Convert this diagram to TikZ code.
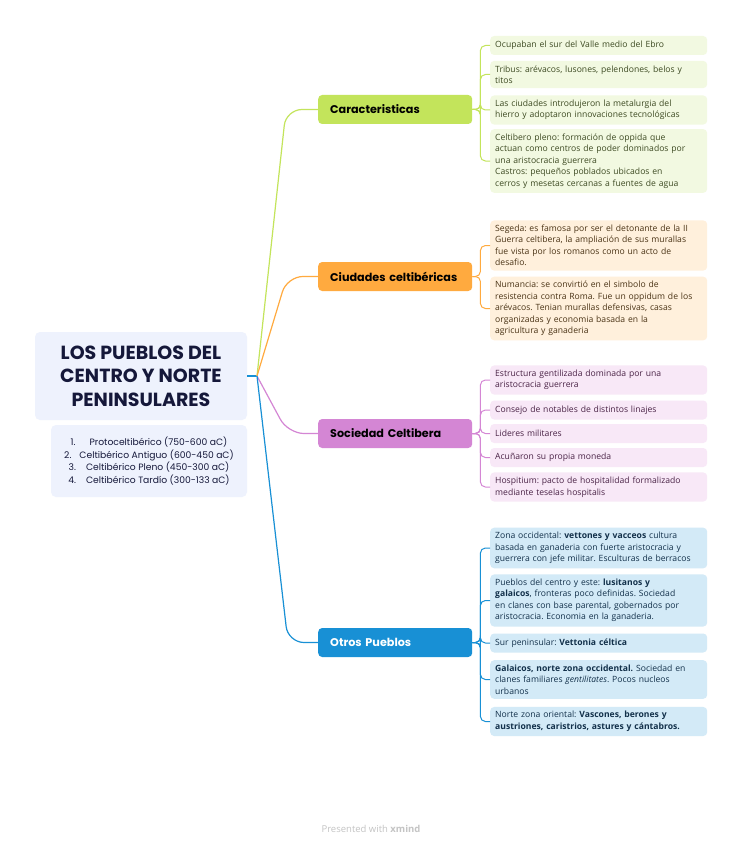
\documentclass[tikz,border=0pt]{standalone}
\usepackage{fontspec}
\setmainfont{Open Sans}
\newfontfamily\headfont{Poppins}
\usepackage{xcolor}
\usepackage{tikz}
\frenchspacing

\definecolor{rootfill}{HTML}{EEF2FD}
\definecolor{roottext}{HTML}{15183A}
\definecolor{grline}{HTML}{C3E45B}
\definecolor{grleaf}{HTML}{F2F9E1}
\definecolor{grtext}{HTML}{3D4A22}
\definecolor{orline}{HTML}{FFAA3F}
\definecolor{orleaf}{HTML}{FFF0DC}
\definecolor{ortext}{HTML}{4A3315}
\definecolor{piline}{HTML}{D486D4}
\definecolor{pileaf}{HTML}{F8E8F7}
\definecolor{pitext}{HTML}{4A2346}
\definecolor{blline}{HTML}{1890D5}
\definecolor{blleaf}{HTML}{D3EAF7}
\definecolor{bltext}{HTML}{12304A}
\definecolor{footgray}{HTML}{C4C4C4}

\begin{document}
\begin{tikzpicture}[x=1pt, y=-1pt, every node/.style={inner sep=0pt},
  rootbox/.style={fill=rootfill, rounded corners=5pt, minimum width=212pt, minimum height=88pt, align=center, text=roottext, font=\headfont\fontsize{19}{23.5}\selectfont\bfseries},
  summbox/.style={fill=rootfill, rounded corners=5pt, minimum width=196pt, minimum height=72pt, align=center, text=roottext, font=\headfont\fontsize{9.2}{12.7}\selectfont},
  branch/.style={rounded corners=4pt, anchor=west, text width=130pt, minimum height=29pt, inner xsep=12pt, align=left, font=\headfont\fontsize{11.2}{12}\selectfont\bfseries},
  leaf/.style={rounded corners=4pt, anchor=west, text width=207pt, minimum height=19pt, inner xsep=5pt, inner ysep=4.5pt, align=left, font=\fontsize{8.6}{11.5}\selectfont},
  grleafbox/.style={leaf, fill=grleaf, text=grtext},
  orleafbox/.style={leaf, fill=orleaf, text=ortext},
  pileafbox/.style={leaf, fill=pileaf, text=pitext},
  blleafbox/.style={leaf, fill=blleaf, text=bltext},
  link/.style={line width=1.2pt, rounded corners=16pt},
  twig/.style={line width=1pt, rounded corners=5pt}]
  \fill[white] (0,0) rectangle (743,848);

  % centre
  \node[rootbox] (root) at (141,376) {LOS PUEBLOS DEL\\CENTRO Y NORTE\\PENINSULARES};
  \node[summbox] (summ) at (149,461) {1.\hspace{14pt}Protoceltibérico (750-600 aC)\\2.\hspace{8pt}Celtibérico Antiguo (600-450 aC)\\3.\hspace{10pt}Celtibérico Pleno (450-300 aC)\\4.\hspace{10pt}Celtibérico Tardío (300-133 aC)};
  \coordinate (hub) at (257,376);

  % main topics
  \node[branch, fill=grline] (carac) at (318,109.5) {Caracteristicas};
  \node[branch, fill=orline] (ciud) at (318,276.5) {Ciudades celtibéricas};
  \node[branch, fill=piline] (soc) at (318,433.5) {Sociedad Celtibera};
  \node[branch, fill=blline, text=white] (otros) at (318,642.5) {Otros Pueblos};

  \draw[link, blline] (root.east) -- (hub);
  \draw[link, grline] (hub) -- (286,109.5) -- (carac.west);
  \draw[link, orline] (hub) -- (287,276.5) -- (ciud.west);
  \draw[link, piline] (hub) -- (288,433.5) -- (soc.west);
  \draw[link, blline] (hub) -- (288,642.5) -- (otros.west);

  % Caracteristicas
  \node[grleafbox] (c1) at (490,45.5) {Ocupaban el sur del Valle medio del Ebro};
  \node[grleafbox] (c2) at (490,74.5) {Tribus: arévacos, lusones, pelendones, belos y\\titos};
  \node[grleafbox] (c3) at (490,110) {Las ciudades introdujeron la metalurgia del\\hierro y adoptaron innovaciones tecnológicas};
  \node[grleafbox] (c4) at (490,161) {Celtibero pleno: formación de oppida que\\actuan como centros de poder dominados por\\una aristocracia guerrera\\Castros: pequeños poblados ubicados en\\cerros y mesetas cercanas a fuentes de agua};
  \draw[twig, grline] (carac.east) -- ++(8,0) |- (c1.west);
  \draw[twig, grline] (carac.east) -- ++(8,0) |- (c2.west);
  \draw[twig, grline] (carac.east) -- ++(8,0) |- (c3.west);
  \draw[twig, grline] (carac.east) -- ++(8,0) |- (c4.west);

  % Ciudades
  \node[orleafbox] (o1) at (490,245.5) {Segeda: es famosa por ser el detonante de la II\\Guerra celtibera, la ampliación de sus murallas\\fue vista por los romanos como un acto de\\desafio.};
  \node[orleafbox] (o2) at (490,308.5) {Numancia: se convirtió en el simbolo de\\resistencia contra Roma. Fue un oppidum de los\\arévacos. Tenian murallas defensivas, casas\\organizadas y economia basada en la\\agricultura y ganaderia};
  \draw[twig, orline] (ciud.east) -- ++(8,0) |- (o1.west);
  \draw[twig, orline] (ciud.east) -- ++(8,0) |- (o2.west);

  % Sociedad
  \node[pileafbox] (s1) at (490,380) {Estructura gentilizada dominada por una\\aristocracia guerrera};
  \node[pileafbox] (s2) at (490,410) {Consejo de notables de distintos linajes};
  \node[pileafbox] (s3) at (490,433.5) {Lideres militares};
  \node[pileafbox] (s4) at (490,457.5) {Acuñaron su propia moneda};
  \node[pileafbox] (s5) at (490,487) {Hospitium: pacto de hospitalidad formalizado\\mediante teselas hospitalis};
  \draw[twig, piline] (soc.east) -- ++(8,0) |- (s1.west);
  \draw[twig, piline] (soc.east) -- ++(8,0) |- (s2.west);
  \draw[twig, piline] (soc.east) -- ++(8,0) |- (s3.west);
  \draw[twig, piline] (soc.east) -- ++(8,0) |- (s4.west);
  \draw[twig, piline] (soc.east) -- ++(8,0) |- (s5.west);

  % Otros pueblos
  \node[blleafbox] (p1) at (490,548) {Zona occidental: \textbf{vettones y vacceos} cultura\\basada en ganaderia con fuerte aristocracia y\\guerrera con jefe militar. Esculturas de berracos};
  \node[blleafbox] (p2) at (490,600.5) {Pueblos del centro y este: \textbf{lusitanos y}\\\textbf{galaicos}, fronteras poco definidas. Sociedad\\en clanes con base parental, gobernados por\\aristocracia. Economia en la ganaderia.};
  \node[blleafbox] (p3) at (490,643) {Sur peninsular: \textbf{Vettonia céltica}};
  \node[blleafbox] (p4) at (490,679.5) {\textbf{Galaicos, norte zona occidental.} Sociedad en\\clanes familiares \textit{gentilitates}. Pocos nucleos\\urbanos};
  \node[blleafbox] (p5) at (490,721.5) {Norte zona oriental: \textbf{Vascones, berones y}\\\textbf{austriones, caristrios, astures y cántabros.}};
  \draw[twig, blline] (otros.east) -- ++(8,0) |- (p1.west);
  \draw[twig, blline] (otros.east) -- ++(8,0) |- (p2.west);
  \draw[twig, blline] (otros.east) -- ++(8,0) |- (p3.west);
  \draw[twig, blline] (otros.east) -- ++(8,0) |- (p4.west);
  \draw[twig, blline] (otros.east) -- ++(8,0) |- (p5.west);

  \node[text=footgray, font=\fontsize{9.5}{11}\selectfont] (foot) at (371,829) {Presented with \textbf{xmind}};
\end{tikzpicture}
\end{document}
